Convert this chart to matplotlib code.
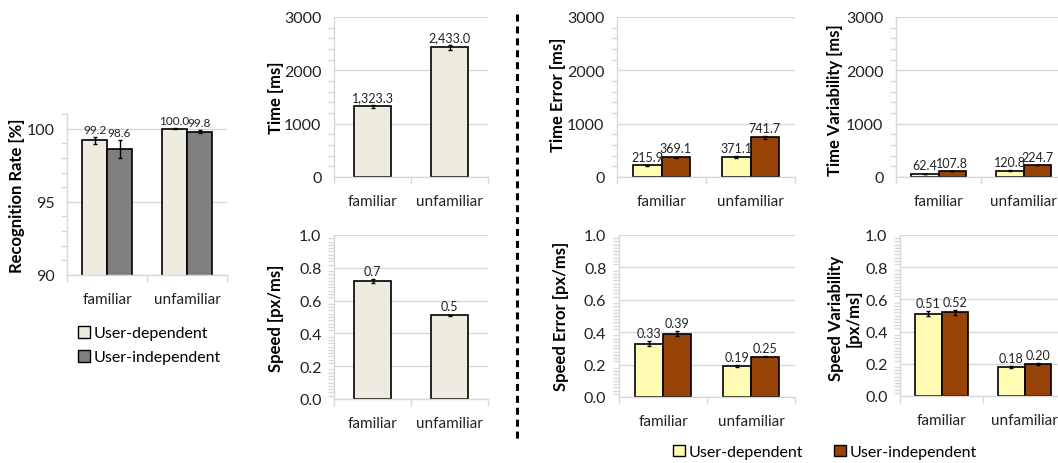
import matplotlib
matplotlib.use("Agg")
import matplotlib.pyplot as plt
from matplotlib.patches import Patch
from matplotlib.lines import Line2D
from matplotlib.ticker import MultipleLocator, FuncFormatter

plt.rcParams['font.family'] = ['Lato', 'DejaVu Sans']

W, H = 1058, 464
categories = ['familiar', 'unfamiliar']
series = ['User-dependent', 'User-independent']

# recognition rate [%]
recog_dep = [99.2, 100.0]
recog_ind = [98.6, 99.8]
recog_dep_err = [0.25, 0.05]
recog_ind_err = [0.6, 0.12]

# time and speed (single series)
time_vals = [1323.3, 2433.0]
time_err = [30, 45]
speed_vals = [0.72, 0.51]
speed_err = [0.01, 0.005]

# time error / variability [ms]
terr_dep = [215.9, 371.1]
terr_ind = [369.1, 741.7]
terr_dep_err = [10, 20]
terr_ind_err = [15, 25]
tvar_dep = [62.4, 120.8]
tvar_ind = [107.8, 224.7]
tvar_dep_err = [3, 5]
tvar_ind_err = [4, 8]

# speed error / variability [px/ms]
serr_dep = [0.33, 0.19]
serr_ind = [0.39, 0.25]
serr_dep_err = [0.015, 0.005]
serr_ind_err = [0.015, 0.005]
svar_dep = [0.51, 0.18]
svar_ind = [0.52, 0.20]
svar_dep_err = [0.015, 0.005]
svar_ind_err = [0.015, 0.005]

TAN, GRAY = '#EEECE1', '#7F7F7F'
YELLOW, BROWN = '#FFFBB3', '#984409'
GRID = '#D9D9D9'

fig = plt.figure(figsize=(W / 100, H / 100), dpi=100)


def add_ax(left, right, top, bottom):
    return fig.add_axes([left / W, 1 - bottom / H, (right - left) / W, (bottom - top) / H])


def style(ax, ylim, major, minor, fmt):
    ax.set_xlim(-0.5, 1.5)
    ax.set_ylim(*ylim)
    ax.yaxis.set_major_locator(MultipleLocator(major))
    ax.yaxis.set_minor_locator(MultipleLocator(minor))
    ax.yaxis.set_major_formatter(FuncFormatter(lambda v, p: fmt.format(v)))
    ax.set_xticks([0, 1])
    ax.set_xticklabels(categories)
    ax.set_xticks([-0.5, 0.5, 1.5], minor=True)
    ax.tick_params(axis='x', which='major', length=0, pad=12, labelsize=11, colors='#222222')
    ax.tick_params(axis='x', which='minor', length=5, color=GRID, width=1)
    ax.tick_params(axis='y', which='major', length=0, pad=9, labelsize=11.5, colors='#222222')
    ax.tick_params(axis='y', which='minor', length=4, color=GRID, width=1)
    for s in ['top', 'right']:
        ax.spines[s].set_visible(False)
    for s in ['left', 'bottom']:
        ax.spines[s].set_color(GRID)
        ax.spines[s].set_linewidth(1)
    ax.grid(axis='y', which='major', color=GRID, lw=1)
    ax.set_axisbelow(True)


def bars(ax, x, vals, errs, width, color, fmt, fs=9):
    ax.bar(x, vals, width, color=color, edgecolor='black', linewidth=1.2, zorder=2)
    ax.errorbar(x, vals, yerr=errs, fmt='none', ecolor='black', elinewidth=1, capsize=1.5, zorder=3)
    for xi, v, e in zip(x, vals, errs):
        ax.annotate(fmt.format(v), (xi, v + e), xytext=(0, 1.5), textcoords='offset points',
                    ha='center', va='bottom', fontsize=fs, color='#222222')


def ylabel(text, px, py):
    fig.text(px / W, 1 - py / H, text, rotation=90, ha='center', va='center',
             fontsize=12, fontweight='bold', color='black', linespacing=1.15)


def pair(ax, dep, ind, dep_err, ind_err, w, c1, c2, fmt, fs=9):
    bars(ax, [-w / 2, 1 - w / 2], dep, dep_err, w, c1, fmt, fs)
    bars(ax, [w / 2, 1 + w / 2], ind, ind_err, w, c2, fmt, fs)


# recognition rate
ax = add_ax(67, 227, 115, 276)
style(ax, (90, 101), 5, 1, '{:.0f}')
ax.set_yticks([90, 95, 100])
pair(ax, recog_dep, recog_ind, recog_dep_err, recog_ind_err, 0.3125, TAN, GRAY, '{:.1f}', fs=8.5)
ylabel('Recognition Rate [%]', 17, 196)

# time
ax = add_ax(334, 488, 18, 178)
style(ax, (0, 3000), 1000, 200, '{:.0f}')
bars(ax, [0, 1], time_vals, time_err, 0.48, TAN, '{:,.1f}')
ylabel('Time [ms]', 276, 98)

# speed
ax = add_ax(334, 488, 236, 400)
style(ax, (0, 1.0), 0.2, 0.02, '{:.1f}')
bars(ax, [0, 1], speed_vals, speed_err, 0.48, TAN, '{:.1f}')
ylabel('Speed [px/ms]', 276, 318)

# time error
ax = add_ax(617, 795, 18, 178)
style(ax, (0, 3000), 1000, 200, '{:.0f}')
pair(ax, terr_dep, terr_ind, terr_dep_err, terr_ind_err, 0.32, YELLOW, BROWN, '{:.1f}')
ylabel('Time Error [ms]', 558, 95)

# time variability
ax = add_ax(896, 1066, 18, 178)
style(ax, (0, 3000), 1000, 200, '{:.0f}')
pair(ax, tvar_dep, tvar_ind, tvar_dep_err, tvar_ind_err, 0.32, YELLOW, BROWN, '{:.1f}')
ylabel('Time Variability [ms]', 835, 100)

# speed error
ax = add_ax(619, 795, 236, 398)
style(ax, (0, 1.0), 0.2, 0.02, '{:.1f}')
pair(ax, serr_dep, serr_ind, serr_dep_err, serr_ind_err, 0.32, YELLOW, BROWN, '{:.2f}')
ylabel('Speed Error [px/ms]', 561, 316)

# speed variability
ax = add_ax(900, 1066, 236, 397)
style(ax, (0, 1.0), 0.2, 0.02, '{:.1f}')
pair(ax, svar_dep, svar_ind, svar_dep_err, svar_ind_err, 0.32, YELLOW, BROWN, '{:.2f}')
ylabel('Speed Variability\n[px/ms]', 845, 318)

# divider
fig.add_artist(Line2D([517 / W, 517 / W], [1 - 15 / H, 1 - 443 / H], color='black',
                      lw=2.2, linestyle=(0, (2.3, 1.6))))

# legends
h_left = [Patch(facecolor=TAN, edgecolor='black', lw=1), Patch(facecolor=GRAY, edgecolor='black', lw=1)]
fig.legend(h_left, series, loc='upper left', bbox_to_anchor=(78 / W, 1 - 327 / H), frameon=False,
           fontsize=11.5, handlelength=0.75, handleheight=0.75, handletextpad=0.25,
           labelspacing=0.6, borderaxespad=0, borderpad=0)
h_right = [Patch(facecolor=YELLOW, edgecolor='black', lw=1), Patch(facecolor=BROWN, edgecolor='black', lw=1)]
fig.legend(h_right, series, loc='center left', bbox_to_anchor=(673 / W, 1 - 453 / H), frameon=False,
           fontsize=11.5, ncol=2, handlelength=0.75, handleheight=0.75, handletextpad=0.25,
           columnspacing=1.9, borderaxespad=0, borderpad=0)

fig.savefig('out.png', dpi=100)
